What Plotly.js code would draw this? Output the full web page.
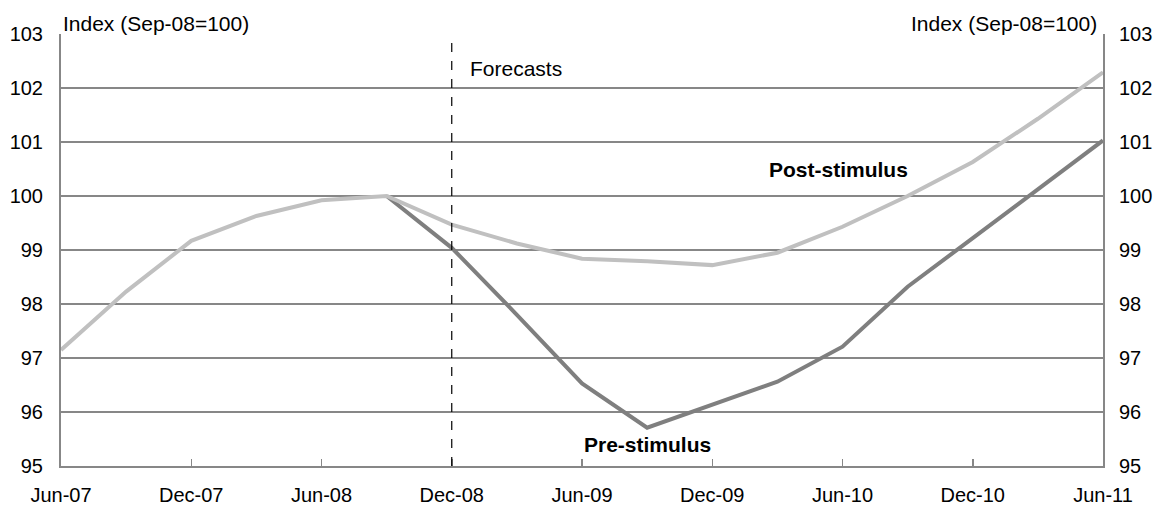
<!DOCTYPE html>
<html>
<head>
<meta charset="utf-8">
<script src="https://cdn.plot.ly/plotly-3.0.1.min.js"></script>
<style>html,body{margin:0;padding:0;background:#fff;}#chart{width:1163px;height:508px;}</style>
</head>
<body>
<div id="chart"></div>
<script>
const quarters = ["Jun-07","Sep-07","Dec-07","Mar-08","Jun-08","Sep-08","Dec-08","Mar-09","Jun-09","Sep-09","Dec-09","Mar-10","Jun-10","Sep-10","Dec-10","Mar-11","Jun-11"];
const tickLabels = ["Jun-07","Dec-07","Jun-08","Dec-08","Jun-09","Dec-09","Jun-10","Dec-10","Jun-11"];
const postStimulus = [97.15, 98.23, 99.17, 99.63, 99.92, 100.0, 99.47, 99.12, 98.84, 98.79, 98.72, 98.95, 99.43, 100.0, 100.63, 101.43, 102.29];
const preStimulus  = [null, null, null, null, null, 100.0, 99.04, 97.80, 96.53, 95.71, 96.14, 96.56, 97.21, 98.32, 99.22, 100.13, 101.03];
const yTicks = [95, 96, 97, 98, 99, 100, 101, 102, 103];
const forecastStart = "Dec-08";

const FONT = "Liberation Sans, Arial, sans-serif";
const GRID = "#878787";

const traces = [
  {x: quarters, y: preStimulus, type: "scatter", mode: "lines", name: "Pre-stimulus",
   line: {color: "#7f7f7f", width: 4}, xaxis: "x", yaxis: "y", hoverinfo: "skip"},
  {x: quarters, y: postStimulus, type: "scatter", mode: "lines", name: "Post-stimulus",
   line: {color: "#c0c0c0", width: 4}, xaxis: "x", yaxis: "y2", hoverinfo: "skip"}
];

const layout = {
  width: 1163, height: 508,
  margin: {l: 61, r: 60, t: 33.5, b: 41.5},
  paper_bgcolor: "#fff", plot_bgcolor: "#fff",
  showlegend: false,
  font: {family: FONT, size: 20, color: "#000"},
  xaxis: {
    type: "category", range: [0, quarters.length - 1],
    tickmode: "array", tickvals: tickLabels, ticktext: tickLabels,
    ticks: "inside", ticklen: 7, tickwidth: 1.5, tickcolor: GRID,
    showline: true, linecolor: GRID, linewidth: 2,
    showgrid: false, zeroline: false,
    tickfont: {family: FONT, size: 20, color: "#000"},
    ticklabelstandoff: 10
  },
  yaxis: {
    range: [95, 103], tickmode: "array", tickvals: yTicks,
    showgrid: true, gridcolor: GRID, gridwidth: 2,
    showline: true, linecolor: GRID, linewidth: 2,
    ticks: "", zeroline: false,
    tickfont: {family: FONT, size: 20, color: "#000"},
    ticklabelstandoff: 12
  },
  yaxis2: {
    range: [95, 103], tickmode: "array", tickvals: yTicks,
    overlaying: "y", side: "right", anchor: "x",
    showgrid: false, showline: true, linecolor: GRID, linewidth: 2,
    ticks: "", zeroline: false,
    tickfont: {family: FONT, size: 20, color: "#000"},
    ticklabelstandoff: 10
  },
  shapes: [
    {type: "line", xref: "x", yref: "paper", x0: forecastStart, x1: forecastStart, y0: 0, y1: 1,
     line: {color: "#000", width: 1.2, dash: "dash"}}
  ],
  annotations: [
    {text: "Index (Sep-08=100)", xref: "paper", yref: "paper", x: 0, y: 1, xanchor: "left", yanchor: "bottom",
     showarrow: false, xshift: 0, yshift: -3, font: {family: FONT, size: 21, color: "#000"}},
    {text: "Index (Sep-08=100)", xref: "paper", yref: "paper", x: 1, y: 1, xanchor: "right", yanchor: "bottom",
     showarrow: false, xshift: -4, yshift: -3, font: {family: FONT, size: 21, color: "#000"}},
    {text: "Forecasts", xref: "x", yref: "y", x: forecastStart, y: 102.36, xanchor: "left", yanchor: "middle",
     showarrow: false, xshift: 16, font: {family: FONT, size: 21, color: "#000"}},
    {text: "<b>Post-stimulus</b>", xref: "x", yref: "y", x: "Dec-09", y: 100.5, xanchor: "center", yanchor: "middle",
     showarrow: false, xshift: 126, font: {family: FONT, size: 21, color: "#000"}},
    {text: "<b>Pre-stimulus</b>", xref: "x", yref: "y", x: "Sep-09", y: 95.4, xanchor: "center", yanchor: "middle",
     showarrow: false, font: {family: FONT, size: 21, color: "#000"}}
  ]
};

Plotly.newPlot("chart", traces, layout, {displayModeBar: false, staticPlot: true});
</script>
</body>
</html>
